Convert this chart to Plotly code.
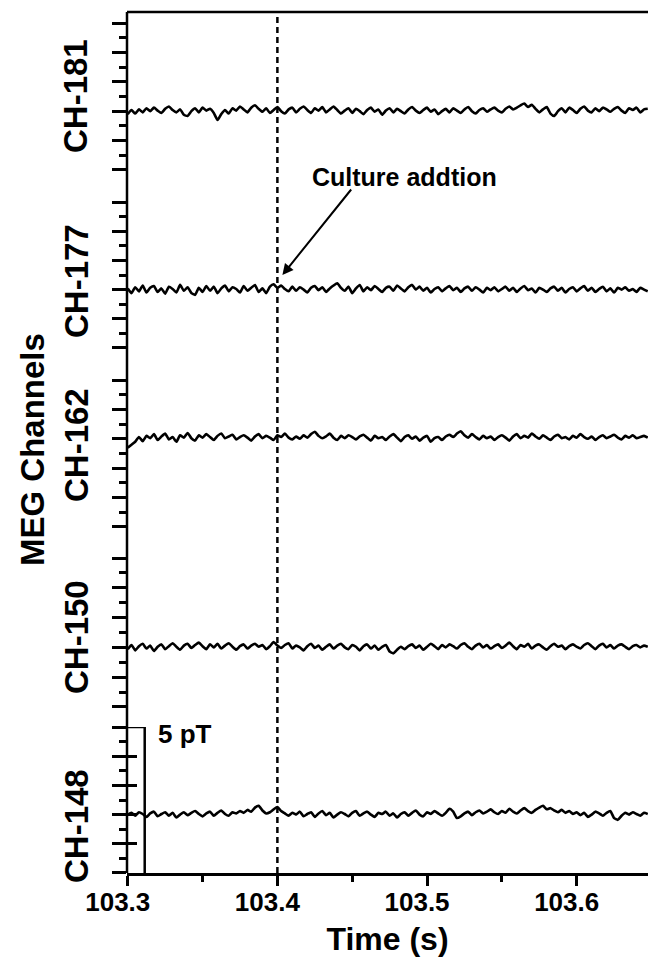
import numpy as np
import plotly.graph_objects as go

# ---------------- data ----------------
channels = ["CH-181", "CH-177", "CH-162", "CH-150", "CH-148"]
t_start = 103.3
t_step = 0.0025
x_ticks = [103.3, 103.4, 103.5, 103.6]
culture_addition_t = 103.4
scale_bar_pT = 5

ch181 = [-0.10,0.04,-0.08,0.06,-0.04,0.10,0.00,0.12,0.02,-0.06,
         0.08,0.16,0.04,-0.04,0.06,-0.12,-0.16,0.00,0.10,-0.04,
         0.12,0.02,0.08,-0.06,-0.30,-0.10,0.04,-0.08,0.10,0.02,
         0.16,0.06,-0.04,0.12,0.20,0.08,-0.02,0.10,-0.06,0.04,
         0.14,0.00,-0.08,0.06,0.12,-0.04,0.08,0.16,0.04,-0.06,
         0.10,0.02,0.14,-0.04,0.06,0.16,0.04,-0.08,0.02,0.10,
         -0.06,0.08,0.00,-0.10,0.04,0.12,-0.02,0.06,-0.12,0.02,
         0.10,-0.04,0.08,0.00,-0.08,0.06,0.14,0.02,-0.06,0.04,
         0.12,-0.02,0.06,-0.10,0.00,0.08,-0.04,0.10,0.02,-0.06,
         0.06,0.14,0.00,-0.08,0.04,0.10,-0.02,0.06,0.12,0.02,
         -0.04,0.08,0.16,0.06,0.12,0.20,0.26,0.14,0.22,0.08,
         -0.04,0.06,0.14,-0.08,-0.16,0.00,0.10,-0.04,0.12,0.04,
         -0.06,0.08,0.16,0.02,-0.04,0.10,0.00,0.12,0.06,-0.02,
         0.08,0.14,0.02,-0.06,0.10,0.04,0.12,-0.04,0.06,0.08]

ch177 = [0.04,-0.12,0.08,-0.06,0.14,-0.10,0.06,0.12,-0.08,0.04,
         -0.14,0.10,0.02,-0.10,0.16,-0.04,0.08,-0.12,-0.18,0.06,
         -0.08,0.12,-0.04,0.10,-0.12,0.04,0.14,-0.06,0.08,0.02,
         -0.10,0.12,-0.04,0.06,0.16,-0.08,0.04,-0.12,0.10,0.18,
         0.06,0.14,0.02,-0.06,0.10,-0.04,0.08,0.00,-0.10,0.06,
         0.12,-0.02,0.08,-0.08,0.04,0.14,0.22,0.06,-0.04,0.10,
         -0.12,0.04,0.16,-0.06,0.08,-0.02,0.12,0.02,-0.08,0.06,
         0.10,-0.04,0.14,0.04,-0.06,0.08,0.16,0.00,0.10,-0.04,
         0.06,-0.10,0.02,0.08,-0.06,0.04,0.12,-0.02,0.06,-0.08,
         0.04,0.10,-0.04,0.08,0.00,-0.10,0.06,-0.02,0.08,-0.06,
         0.02,0.10,-0.04,0.06,-0.08,0.04,0.12,-0.02,0.04,-0.10,
         0.06,0.00,-0.08,0.04,0.10,-0.04,0.06,-0.10,0.02,0.08,
         -0.06,0.04,0.12,-0.04,0.06,-0.08,0.02,0.10,-0.06,0.04,
         -0.10,0.06,0.00,0.08,-0.04,0.02,-0.08,0.06,0.00,-0.06]

ch162 = [-0.30,-0.20,-0.10,0.06,-0.08,0.10,0.02,0.16,-0.04,0.08,
         0.18,-0.02,0.06,-0.10,0.12,0.04,0.20,0.02,-0.06,0.12,
         0.04,0.16,0.06,-0.04,0.10,0.18,0.02,0.08,0.14,-0.02,
         0.06,0.12,0.04,-0.06,0.08,0.16,0.02,0.10,0.04,-0.04,
         0.12,0.06,0.18,0.04,-0.02,0.08,0.00,0.12,0.04,0.16,
         0.24,0.10,0.02,0.08,0.18,0.04,-0.04,0.10,0.02,0.12,
         0.06,-0.02,0.08,0.14,0.04,-0.06,0.10,0.02,0.06,-0.04,
         0.08,0.16,0.04,-0.08,0.06,0.12,0.00,0.08,-0.06,0.04,
         0.10,-0.10,0.02,0.06,-0.04,0.08,0.14,0.06,0.18,0.26,
         0.12,0.04,0.16,0.06,-0.02,0.10,0.02,0.08,-0.04,0.06,
         0.12,0.04,-0.06,0.08,0.16,0.02,0.10,0.04,0.18,0.08,
         0.00,0.12,0.04,-0.04,0.08,0.14,0.02,0.06,-0.02,0.10,
         0.04,0.16,0.06,0.00,0.08,-0.04,0.06,0.12,0.02,0.08,
         0.14,0.04,-0.02,0.10,0.04,0.12,0.02,0.06,0.10,0.04]

ch150 = [-0.06,0.08,-0.10,0.04,0.12,-0.04,0.06,-0.12,0.02,0.10,
         -0.06,0.04,0.14,0.02,-0.08,0.06,0.12,-0.02,0.08,0.16,
         0.04,-0.06,0.10,0.00,0.12,-0.04,0.06,0.14,0.02,-0.08,
         0.04,0.10,-0.04,0.06,0.12,0.02,0.08,-0.06,0.04,0.18,
         0.06,-0.02,0.08,0.14,-0.04,0.06,0.00,-0.10,0.04,0.12,
         -0.02,0.06,-0.08,0.02,0.10,-0.04,0.06,0.12,0.00,-0.06,
         0.08,0.02,-0.10,0.04,0.10,-0.04,0.06,-0.08,0.02,0.08,
         -0.14,-0.20,-0.08,0.02,-0.06,0.04,0.10,-0.02,0.06,-0.08,
         0.02,0.12,0.04,-0.06,0.08,0.00,0.10,0.04,-0.04,0.08,
         0.14,0.02,-0.06,0.06,0.12,0.00,0.08,-0.04,0.04,0.10,
         -0.02,0.06,0.16,0.04,-0.06,0.08,0.02,0.12,-0.04,0.06,
         0.10,0.00,-0.08,0.04,0.12,0.02,0.06,-0.06,0.04,0.10,
         0.02,-0.04,0.08,0.14,0.04,-0.06,0.06,0.12,0.00,0.08,
         -0.04,0.06,0.10,0.02,-0.06,0.04,0.08,0.00,0.06,0.02]

ch148 = [0.00,0.06,-0.04,0.08,0.02,-0.08,0.04,0.10,-0.06,0.02,
         0.08,-0.04,0.06,-0.10,0.00,0.08,-0.02,0.06,0.12,0.02,
         -0.06,0.04,0.10,-0.04,0.06,0.14,0.02,-0.04,0.08,0.04,
         0.12,0.06,0.16,0.10,0.24,0.30,0.14,0.04,0.08,0.18,
         0.26,0.12,0.04,-0.04,0.06,0.00,0.10,-0.06,0.02,0.08,
         -0.08,0.04,0.12,-0.02,0.06,-0.10,0.00,0.08,0.02,-0.06,
         0.06,0.12,-0.04,0.04,0.10,0.00,-0.08,0.06,0.02,0.10,
         -0.04,0.04,-0.10,0.02,0.08,-0.04,0.06,0.14,0.00,-0.06,
         0.08,0.02,0.12,0.04,-0.04,0.06,0.20,0.10,-0.12,-0.06,
         0.04,0.10,-0.02,0.08,0.14,0.04,0.10,0.18,0.08,0.02,
         0.12,0.06,0.20,0.10,0.04,0.14,0.22,0.12,0.06,0.16,
         0.24,0.30,0.18,0.22,0.14,0.08,0.16,0.06,0.12,0.02,
         0.08,-0.02,0.06,-0.08,0.00,0.10,0.04,-0.04,0.06,0.12,
         -0.12,-0.18,-0.04,0.06,0.00,0.08,0.02,-0.04,0.06,0.02]

signals = [ch181, ch177, ch162, ch150, ch148]
# y range (pT) of each stacked panel, top to bottom
panel_ranges = [[-2, 3], [-2, 3], [-3, 2], [-2, 3], [-2, 3]]

# ---------------- layout constants ----------------
W, H = 648, 971
ML, MT, MB = 127, 12, 98
plot_w = W - ML
plot_h = H - MT - MB
panel_px = [(23, 170), (202, 348), (380, 527), (558, 707), (727, 873)]
x_range = [103.2995, 103.3 + (W - 126.5) / 1500.0]

FONT = "Liberation Sans, Arial, sans-serif"
LW = 2.5


def px_to_paper_y(ypx):
    return (H - MB - ypx) / plot_h


def px_to_paper_x(xpx):
    return (xpx - ML) / plot_w


fig = go.Figure()

for i, (name, sig) in enumerate(zip(channels, signals)):
    n = len(sig)
    t = t_start + t_step * np.arange(n)
    yname = "y" if i == 0 else f"y{i+1}"
    fig.add_trace(go.Scatter(x=t, y=sig, mode="lines", name=name,
                             line=dict(color="black", width=2.6, shape="spline", smoothing=0.5),
                             xaxis="x", yaxis=yname, showlegend=False,
                             hoverinfo="skip"))

layout_axes = {}
for i, (top, bot) in enumerate(panel_px):
    key = "yaxis" if i == 0 else f"yaxis{i+1}"
    r = panel_ranges[i]
    layout_axes[key] = dict(
        domain=[max(0, px_to_paper_y(bot)), min(1, px_to_paper_y(top))],
        range=[r[0] - 0.003, r[1] + 0.003],
        anchor="x",
        tickmode="linear", tick0=0, dtick=1,
        ticks="outside", ticklen=14, tickwidth=LW, tickcolor="black",
        showticklabels=False, showgrid=False, zeroline=False, showline=False,
        minor=dict(tick0=0.5, dtick=1, ticks="outside", ticklen=7,
                   tickwidth=LW, tickcolor="black", showgrid=False),
        fixedrange=True,
    )

# bottom panel: major ticks also cross the axis inward
r5 = panel_ranges[4]
layout_axes["yaxis6"] = dict(
    overlaying="y5", anchor="x", side="left",
    range=[r5[0] - 0.003, r5[1] + 0.003],
    tickmode="linear", tick0=0, dtick=1,
    ticks="inside", ticklen=10, tickwidth=LW, tickcolor="black",
    showticklabels=False, showgrid=False, zeroline=False, showline=False,
    fixedrange=True,
)

fig.update_layout(
    width=W, height=H,
    margin=dict(l=ML, r=0, t=MT, b=MB, pad=0),
    paper_bgcolor="white", plot_bgcolor="white",
    xaxis=dict(
        range=x_range, anchor="y5",
        tickmode="array", tickvals=x_ticks,
        ticktext=[f"{v:.1f}" for v in x_ticks],
        ticks="outside", ticklen=10, tickwidth=LW, tickcolor="black",
        showline=True, linewidth=LW, linecolor="black",
        showgrid=False, zeroline=False,
        ticklabelshift=-10, ticklabelstandoff=-6,
        minor=dict(tickvals=[103.35, 103.45, 103.55], ticks="outside", ticklen=6,
                   tickwidth=LW, tickcolor="black", showgrid=False),
        tickfont=dict(family=FONT, size=26, color="black", weight="bold"),
        title=dict(text="<b>Time (s)</b>", font=dict(family=FONT, size=32, color="black"),
                   standoff=12),
    ),
    **layout_axes,
)

# invisible trace to register the overlay axis
fig.add_trace(go.Scatter(x=[t_start], y=[0], mode="lines", xaxis="x", yaxis="y6",
                         showlegend=False, hoverinfo="skip", line=dict(width=0)))

# frame: left axis line and top line
fig.add_shape(type="line", xref="paper", yref="paper", x0=0, x1=0, y0=0, y1=1,
              line=dict(color="black", width=LW))
fig.add_shape(type="line", xref="paper", yref="paper", x0=0, x1=1, y0=1, y1=1,
              line=dict(color="black", width=LW))

# culture addition dashed line
fig.add_shape(type="line", xref="x", yref="paper", x0=culture_addition_t, x1=culture_addition_t,
              y0=0, y1=1, line=dict(color="black", width=LW, dash="6px,4px"))

# 5 pT scale bar on the bottom panel
sb_top = panel_ranges[4][1]
sb_x = t_start + 17 / 1500.0
fig.add_shape(type="path", xref="x", yref="y5",
              path=f"M {t_start},{sb_top} L {sb_x},{sb_top} L {sb_x},{sb_top - scale_bar_pT}",
              line=dict(color="black", width=LW))
fig.add_annotation(x=px_to_paper_x(185), y=px_to_paper_y(734), xref="paper", yref="paper",
                   xanchor="center", yanchor="middle",
                   text=f"<b>{scale_bar_pT} pT</b>", showarrow=False,
                   font=dict(family=FONT, size=26, color="black"))

# culture addition arrow & text
fig.add_annotation(x=culture_addition_t + 5 / 1500.0, y=0.5, xref="x", yref="y2",
                   ax=70, ay=-87, axref="pixel", ayref="pixel",
                   text="", showarrow=True, arrowhead=2, arrowsize=1.1,
                   arrowwidth=2, arrowcolor="black")
fig.add_annotation(x=px_to_paper_x(404), y=px_to_paper_y(177),
                   xref="paper", yref="paper", xanchor="center", yanchor="middle",
                   text="<b>Culture addtion</b>",
                   showarrow=False, font=dict(family=FONT, size=25, color="black"))

# channel labels
label_px = [96, 281, 445, 637, 826]
for name, ypx in zip(channels, label_px):
    fig.add_annotation(x=0, xref="paper", xshift=-51, y=px_to_paper_y(ypx), yref="paper",
                       text=f"<b>{name}</b>", textangle=-90, showarrow=False,
                       xanchor="center", yanchor="middle",
                       font=dict(family=FONT, size=33, color="black"))

fig.add_annotation(x=0, xref="paper", xshift=-95, y=px_to_paper_y(450), yref="paper",
                   text="<b>MEG Channels</b>", textangle=-90, showarrow=False,
                   xanchor="center", yanchor="middle",
                   font=dict(family=FONT, size=33, color="black"))

fig.write_html("out.html")
